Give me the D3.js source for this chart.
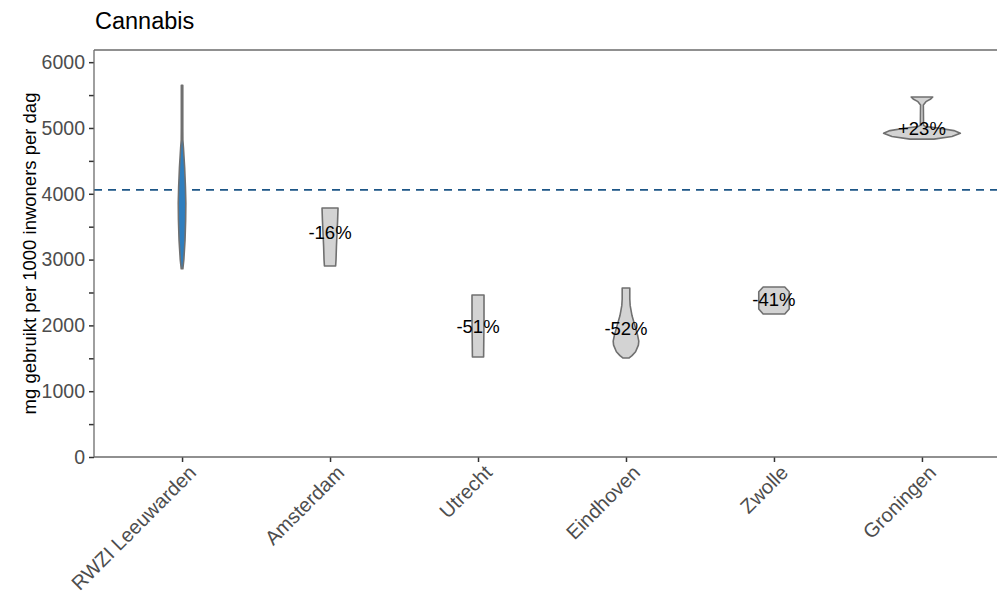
<!DOCTYPE html>
<html>
<head>
<meta charset="utf-8">
<script src="https://cdn.jsdelivr.net/npm/d3@7/dist/d3.min.js"></script>
<style>
  html, body { margin: 0; padding: 0; background: #fff; }
  text { font-family: Arial, "Liberation Sans", sans-serif; }
</style>
</head>
<body>
<svg id="chart" width="997" height="593"></svg>
<script>
// ---- data ----
const categories = ["RWZI Leeuwarden", "Amsterdam", "Utrecht", "Eindhoven", "Zwolle", "Groningen"];
const reference = 4058; // mediaan RWZI Leeuwarden
const medians = [4058, 3409, 1988, 1948, 2394, 4991];
const pctLabels = ["", "-16%", "-51%", "-52%", "-41%", "+23%"];
const yTicks = [0, 1000, 2000, 3000, 4000, 5000, 6000];
const yMinorTicks = [500, 1500, 2500, 3500, 4500, 5500];

// density profiles: [value, relative density]
const densLeeuwarden = [[2860,0.02],[3000,0.045],[3300,0.075],[3600,0.09],[3860,0.095],[4100,0.085],[4400,0.065],[4700,0.035],[4820,0.02],[5000,0.018],[5300,0.018],[5650,0.018]];
const densAmsterdam = [[2903,0.14],[3000,0.15],[3200,0.16],[3400,0.175],[3600,0.19],[3784,0.2]];
const densUtrecht = [[1520,0.14],[1800,0.145],[2100,0.15],[2462,0.15]];
const densEindhoven = [[1505,0.08],[1540,0.15],[1600,0.24],[1700,0.31],[1760,0.32],[1850,0.29],[2000,0.22],[2150,0.15],[2300,0.105],[2400,0.095],[2568,0.095]];
const densZwolle = [[2173,0.27],[2250,0.38],[2510,0.38],[2584,0.27]];
const densGroningen = [[4830,0.3],[4870,0.75],[4920,0.96],[4960,0.8],[5000,0.4],[5020,0.1],[5040,0.04],[5350,0.035],[5400,0.1],[5440,0.22],[5470,0.27]];
const densities = [densLeeuwarden, densAmsterdam, densUtrecht, densEindhoven, densZwolle, densGroningen];

// ---- layout ----
const svg = d3.select("#chart");
const panel = { left: 94, top: 50, bottom: 457, right: 1010 };

const y = d3.scaleLinear().domain([0, 6185]).range([panel.bottom, panel.top]);
const x = d3.scalePoint().domain(categories).range([panel.left, panel.right]).padding(0.595);
const w = d3.scaleLinear().domain([0, 1]).range([0, 40]);

svg.append("rect").attr("width", 997).attr("height", 593).attr("fill", "#fff");

// title
svg.append("text").attr("x", 95).attr("y", 29).attr("font-size", 23.5).attr("fill", "#000").text("Cannabis");

// panel border (top line)
svg.append("line").attr("x1", panel.left).attr("x2", 997).attr("y1", panel.top).attr("y2", panel.top)
  .attr("stroke", "#6b6b6b").attr("stroke-width", 1.3);

// reference dashed line
svg.append("line").attr("x1", panel.left).attr("x2", 997)
  .attr("y1", y(reference)).attr("y2", y(reference))
  .attr("stroke", "#1d5687").attr("stroke-width", 1.8).attr("stroke-dasharray", "8,6");

// violins
categories.forEach((c, i) => {
  const cx = x(c);
  const a = d3.area()
    .y(d => y(d[0]))
    .x0(d => cx - w(d[1]))
    .x1(d => cx + w(d[1]))
    .curve(d3.curveLinear);
  svg.append("path").attr("d", a(densities[i]))
    .attr("fill", i === 0 ? "#2f7ebe" : "#d3d3d3")
    .attr("stroke", "#707070").attr("stroke-width", 1.6)
    .attr("stroke-linejoin", "round");
});

// percentage labels
categories.forEach((c, i) => {
  if (!pctLabels[i]) return;
  svg.append("text").attr("x", x(c)).attr("y", y(medians[i]))
    .attr("text-anchor", "middle").attr("dominant-baseline", "central")
    .attr("font-size", 18.5).attr("fill", "#000").text(pctLabels[i]);
});

// y axis
const yAxis = svg.append("g").attr("transform", `translate(${panel.left},0)`)
  .call(d3.axisLeft(y).tickValues(yTicks).tickSize(5).tickPadding(4).tickFormat(d3.format("d")));
yAxis.select(".domain").remove();
yAxis.selectAll(".tick line").attr("stroke", "#333").attr("stroke-width", 1.5);
yAxis.selectAll(".tick text").attr("font-size", 19.5).attr("fill", "#4d4d4d")
  .attr("font-family", "Arial, 'Liberation Sans', sans-serif");
const yMinor = svg.append("g").attr("transform", `translate(${panel.left},0)`)
  .call(d3.axisLeft(y).tickValues(yMinorTicks).tickSize(5).tickFormat(""));
yMinor.select(".domain").remove();
yMinor.selectAll(".tick line").attr("stroke", "#333").attr("stroke-width", 1.5);

svg.append("line").attr("x1", panel.left).attr("x2", panel.left).attr("y1", panel.top).attr("y2", panel.bottom)
  .attr("stroke", "#6b6b6b").attr("stroke-width", 1.3);

// x axis
const xAxis = svg.append("g").attr("transform", `translate(0,${panel.bottom})`)
  .call(d3.axisBottom(x).tickSize(5).tickPadding(4));
xAxis.select(".domain").remove();
xAxis.selectAll(".tick line").attr("stroke", "#333").attr("stroke-width", 1.5);
xAxis.selectAll(".tick text")
  .attr("font-size", 20).attr("fill", "#4d4d4d")
  .attr("font-family", "Arial, 'Liberation Sans', sans-serif")
  .attr("text-anchor", "end")
  .attr("transform", "translate(5,7) rotate(-45)")
  .attr("dy", "0.7em").attr("y", 0);
svg.append("line").attr("x1", panel.left).attr("x2", 997).attr("y1", panel.bottom).attr("y2", panel.bottom)
  .attr("stroke", "#6b6b6b").attr("stroke-width", 1.3);

// y axis title
svg.append("text")
  .attr("transform", `translate(29,${(panel.top + panel.bottom) / 2}) rotate(-90)`)
  .attr("text-anchor", "middle").attr("dominant-baseline", "central")
  .attr("font-size", 18.5).attr("fill", "#000")
  .text("mg gebruikt per 1000 inwoners per dag");
</script>
</body>
</html>
